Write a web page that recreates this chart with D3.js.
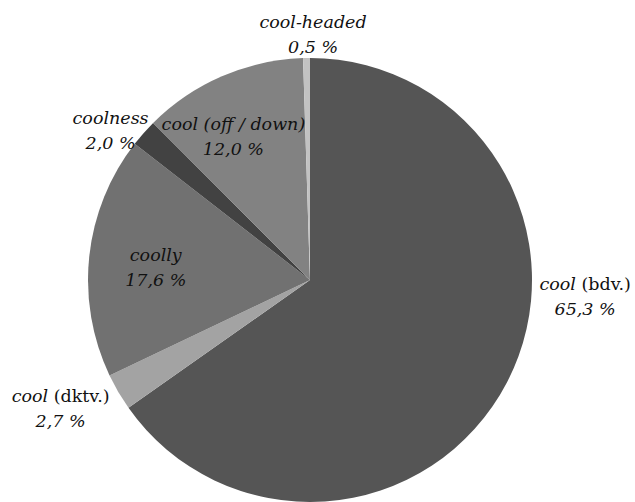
<!DOCTYPE html>
<html>
<head>
<meta charset="utf-8">
<script src="https://cdn.jsdelivr.net/npm/d3@7"></script>
<style>
  html, body { margin: 0; padding: 0; background: #fff; }
</style>
</head>
<body>
<div id="chart"></div>
<script>
// data, clockwise from 12 o'clock
const wordNames = ["cool", "cool", "coolly", "coolness", "cool (off / down)", "cool-headed"];
const wordTags = [" (bdv.)", " (dktv.)", "", "", "", ""];
const shares = [65.3, 2.7, 17.6, 2.0, 12.0, 0.5];
const sliceColors = ["#555555", "#a3a3a3", "#717171", "#424242", "#828282", "#c2c2c2"];

// label placement: angle (deg, clockwise from top) and radius as a share of the pie radius
const labelAngle = [92, 244, 277, 308, 333, 0.7];
const labelRadius = [1.24, 1.25, 0.70, 1.14, 0.76, 1.135];

const width = 635, height = 502;
const cx = 310, cy = 280, radius = 222;

const svg = d3.select("#chart")
    .append("svg")
    .attr("width", width)
    .attr("height", height)
    .style("font-family", "'DejaVu Serif', serif")
    .attr("font-size", 17.5);

const g = svg.append("g")
    .attr("transform", `translate(${cx},${cy})`);

const pie = d3.pie().sort(null).value(d => d);
const arcs = pie(shares);
const arc = d3.arc().innerRadius(0).outerRadius(radius);

g.selectAll("path")
    .data(arcs)
    .join("path")
    .attr("d", arc)
    .attr("fill", (d, i) => sliceColors[i]);

const fmt = v => d3.format(".1f")(v).replace(".", ",") + " %";

const labels = g.selectAll("g.lbl")
    .data(arcs)
    .join("g")
    .attr("class", "lbl")
    .attr("transform", (d, i) => {
        const p = d3.pointRadial(labelAngle[i] * Math.PI / 180, labelRadius[i] * radius);
        return `translate(${p[0]},${p[1]})`;
    });

const line1 = labels.append("text")
    .attr("text-anchor", "middle")
    .attr("fill", "#111")
    .attr("y", 0);
line1.append("tspan")
    .attr("font-style", "italic")
    .text((d, i) => wordNames[i]);
line1.append("tspan")
    .text((d, i) => wordTags[i]);

labels.append("text")
    .attr("text-anchor", "middle")
    .attr("fill", "#111")
    .attr("y", 25)
    .attr("font-style", "italic")
    .text((d, i) => fmt(shares[i]));
</script>
</body>
</html>
